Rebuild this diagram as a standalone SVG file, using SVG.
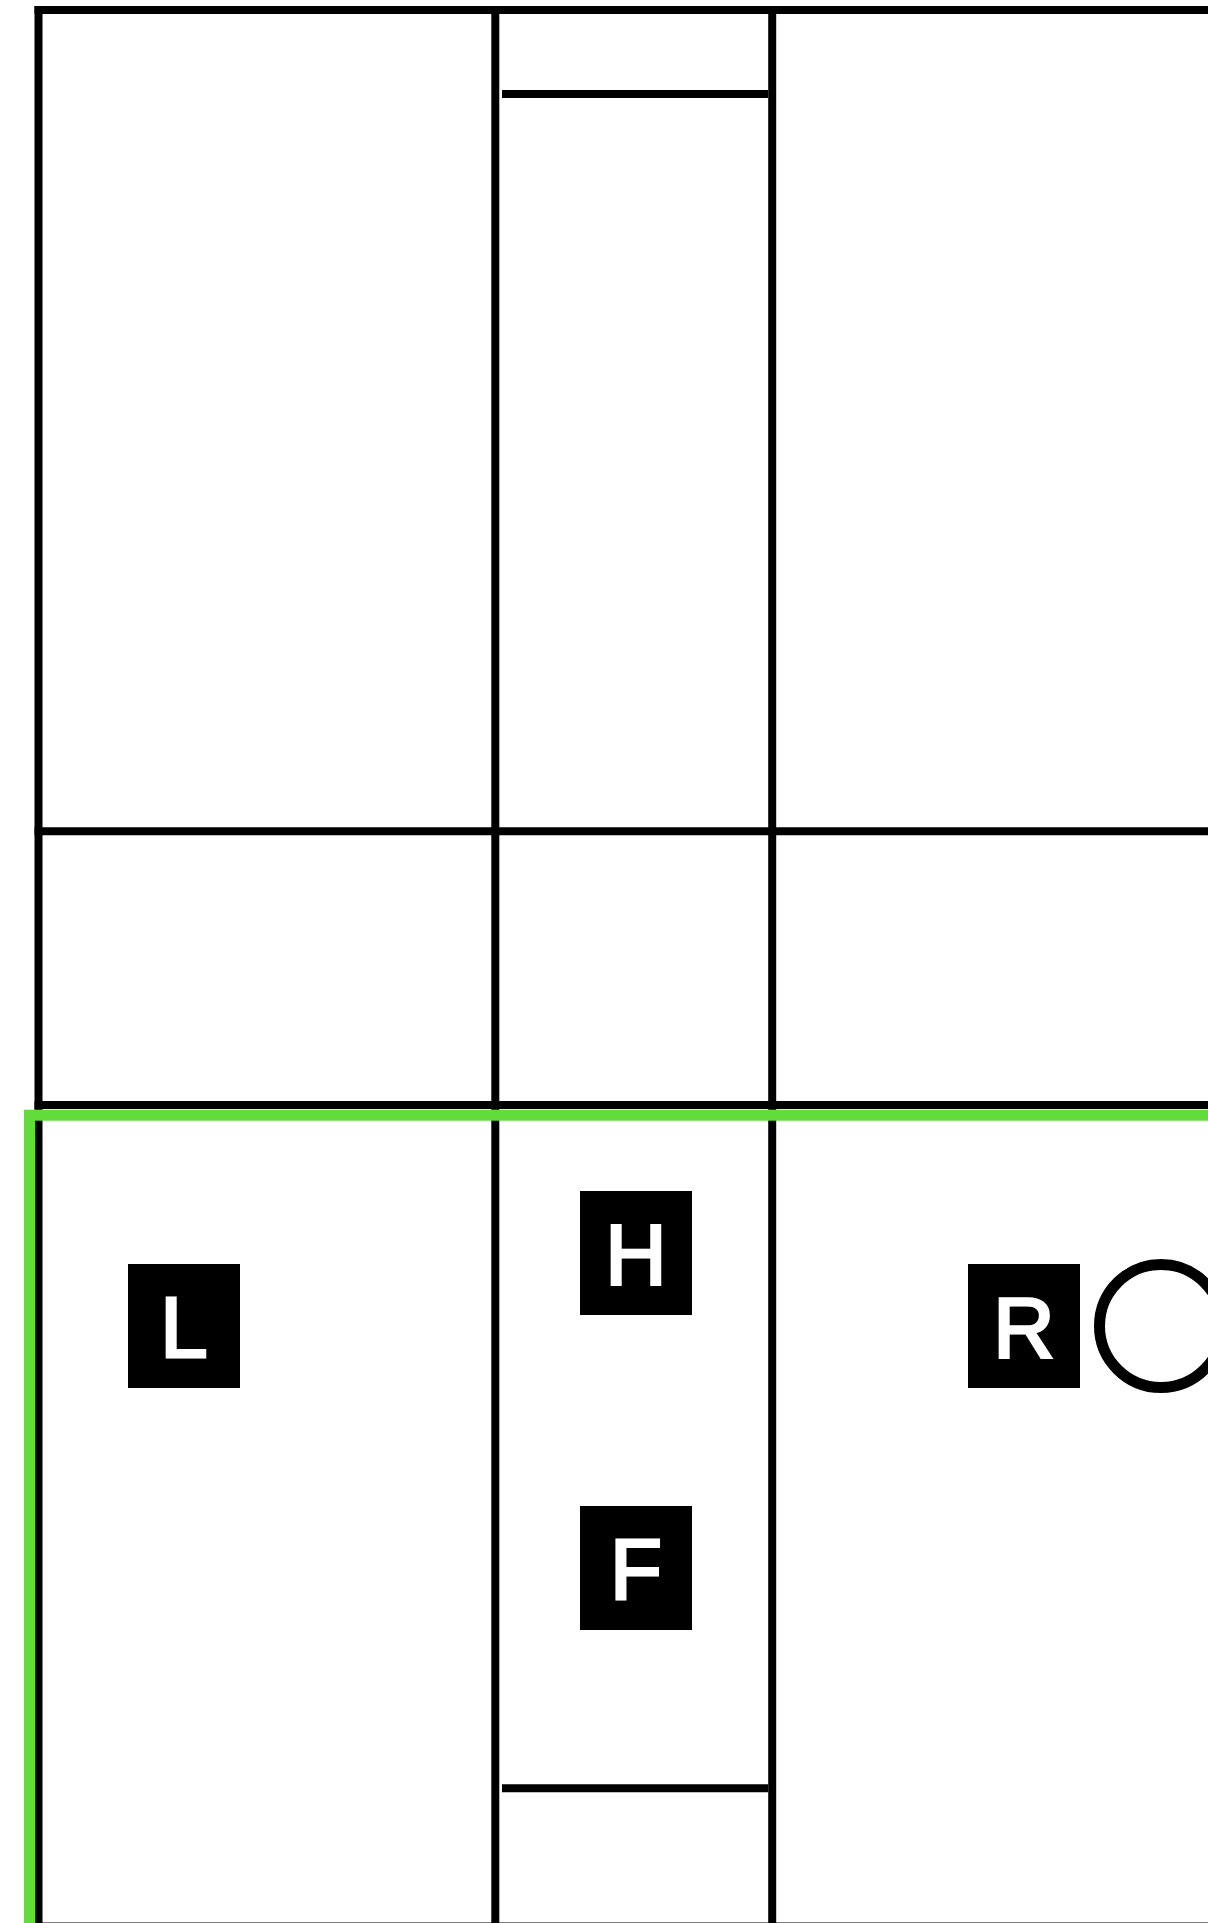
<svg xmlns="http://www.w3.org/2000/svg" width="1208" height="1923" viewBox="0 0 1208 1923">
<style>
.ln{stroke:#000;stroke-width:8;fill:none}
.box{fill:#000}
.lbl{fill:#fff;stroke:#fff;stroke-width:3;font-family:"Liberation Sans",Arial,sans-serif;font-size:85px;text-anchor:middle}
.grn{stroke:#63db3a;stroke-width:11;fill:none}
</style>
<rect width="1208" height="1923" fill="#fff"/>
<g id="connectors">
<line class="ln" x1="34.5" y1="10" x2="1208" y2="10"/>
<line class="ln" x1="38.5" y1="6" x2="38.5" y2="1923"/>
<line class="ln" x1="495.3" y1="6" x2="495.3" y2="1923"/>
<line class="ln" x1="772.2" y1="6" x2="772.2" y2="1923"/>
<line class="ln" x1="502" y1="94" x2="768.2" y2="94"/>
<line class="ln" x1="34.5" y1="831.3" x2="1208" y2="831.3"/>
<line class="ln" x1="34.5" y1="1105" x2="1208" y2="1105"/>
<line class="ln" x1="502" y1="1788.3" x2="768.2" y2="1788.3"/>
<line class="ln" x1="34.5" y1="1926.5" x2="1208" y2="1926.5"/>
</g>
<g id="zone">
<rect class="grn" x="29.5" y="1115.2" width="1300" height="900"/>
</g>
<g id="node-L">
<rect class="box" x="128" y="1264" width="112" height="124"/>
<text class="lbl" x="184" y="1357">L</text>
</g>
<g id="node-H">
<rect class="box" x="580" y="1191" width="112" height="124"/>
<text class="lbl" x="636" y="1284">H</text>
</g>
<g id="node-F">
<rect class="box" x="580" y="1506" width="112" height="124"/>
<text class="lbl" x="636" y="1599">F</text>
</g>
<g id="node-R">
<rect class="box" x="968" y="1264" width="112" height="124"/>
<text class="lbl" x="1024" y="1357">R</text>
</g>
<g id="node-O">
<circle cx="1161" cy="1326" r="61.5" stroke="#000" stroke-width="11" fill="none"/>
</g>
</svg>
